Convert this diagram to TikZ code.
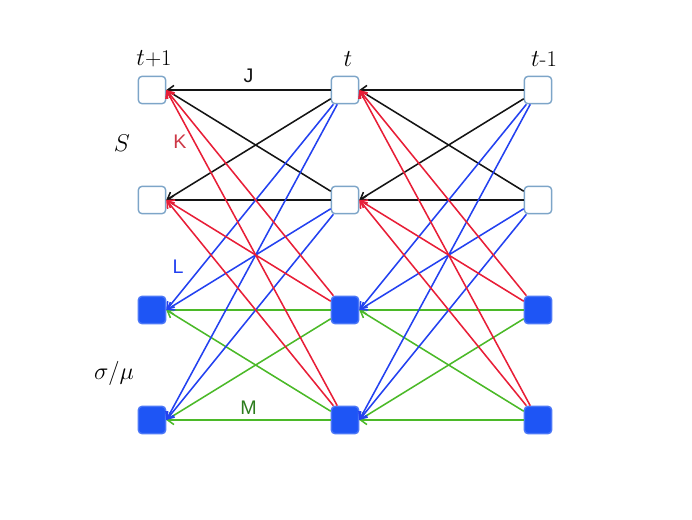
\documentclass[tikz,border=0pt]{standalone}
\usepackage{fontspec}
\setsansfont{Liberation Sans}
\usepackage{tikz}
\usetikzlibrary{arrows.meta, positioning}
\definecolor{jblack}{RGB}{20,20,20}
\definecolor{kred}{RGB}{232,30,55}
\definecolor{klabel}{RGB}{205,55,70}
\definecolor{lblue}{RGB}{35,65,240}
\definecolor{mgreen}{RGB}{75,185,40}
\definecolor{mlabel}{RGB}{45,125,30}
\definecolor{sborder}{RGB}{125,165,200}
\definecolor{hfill}{RGB}{30,85,245}

\begin{document}
\begin{tikzpicture}[
  snode/.style={rectangle, draw=sborder, line width=1pt, fill=white, rounded corners=2.5pt,
                minimum size=0.68cm, inner sep=0pt},
  hnode/.style={snode, draw=hfill!80, fill=hfill},
  arr/.style={-{Straight Barb[length=4.5pt,width=6.5pt]}, line width=1.1pt},
  jarr/.style={arr, jblack},
  karr/.style={arr, kred},
  larr/.style={arr, lblue},
  marr/.style={arr, mgreen},
  tlab/.style={font=\fontsize{16}{18}\selectfont},
  lab/.style={font=\sffamily\fontsize{14}{16}\selectfont}
]
  \useasboundingbox (0,0) rectangle (17.3,12.975);
  % column t+1
  \node[snode] (p1) at (3.8,10.725) {};
  \node[snode] (p2) at (3.8,7.975) {};
  \node[hnode] (p3) at (3.8,5.225) {};
  \node[hnode] (p4) at (3.8,2.475) {};
  % column t
  \node[snode] (c1) at (8.625,10.725) {};
  \node[snode] (c2) at (8.625,7.975) {};
  \node[hnode] (c3) at (8.625,5.225) {};
  \node[hnode] (c4) at (8.625,2.475) {};
  % column t-1
  \node[snode] (m1) at (13.45,10.725) {};
  \node[snode] (m2) at (13.45,7.975) {};
  \node[hnode] (m3) at (13.45,5.225) {};
  \node[hnode] (m4) at (13.45,2.475) {};
  % time labels
  \node[tlab] (tp) at (3.85,11.5) {$t$+1};
  \node[tlab] (tc) at (8.7,11.5) {$t$};
  \node[tlab] (tm) at (13.6,11.5) {$t$-1};
  \node[tlab] (ls) at (3.05,9.4) {$S$};
  \node[tlab] (lh) at (2.85,3.65) {$\sigma/\mu$};
  % J
  \draw[jarr] (c1) -- node[lab, above=1pt, jblack]{J} (p1.east);
  \draw[jarr] (c1) -- (p2.east); \draw[jarr] (c2) -- (p1.east);
  \draw[jarr] (c2) -- (p2.east);
  \draw[jarr] (m1) -- (c1.east); \draw[jarr] (m1) -- (c2.east);
  \draw[jarr] (m2) -- (c1.east); \draw[jarr] (m2) -- (c2.east);
  % M
  \draw[marr] (c3) -- (p3.east); \draw[marr] (c3) -- (p4.east);
  \draw[marr] (c4) -- (p3.east);
  \draw[marr] (c4) -- node[lab, above=0pt, mlabel]{M} (p4.east);
  \draw[marr] (m3) -- (c3.east); \draw[marr] (m3) -- (c4.east);
  \draw[marr] (m4) -- (c3.east); \draw[marr] (m4) -- (c4.east);
  % L
  \draw[larr] (c1) -- (p3.east); \draw[larr] (c1) -- (p4.east);
  \draw[larr] (c2) -- (p3.east); \draw[larr] (c2) -- (p4.east);
  \draw[larr] (m1) -- (c3.east); \draw[larr] (m1) -- (c4.east);
  \draw[larr] (m2) -- (c3.east); \draw[larr] (m2) -- (c4.east);
  % K
  \draw[karr] (c3) -- (p1.east); \draw[karr] (c3) -- (p2.east);
  \draw[karr] (c4) -- (p1.east); \draw[karr] (c4) -- (p2.east);
  \draw[karr] (m3) -- (c1.east); \draw[karr] (m3) -- (c2.east);
  \draw[karr] (m4) -- (c1.east); \draw[karr] (m4) -- (c2.east);
  \node[lab, klabel] (lk) at (4.5,9.42) {K};
  \node[lab, lblue] (ll) at (4.45,6.3) {L};
\end{tikzpicture}
\end{document}
